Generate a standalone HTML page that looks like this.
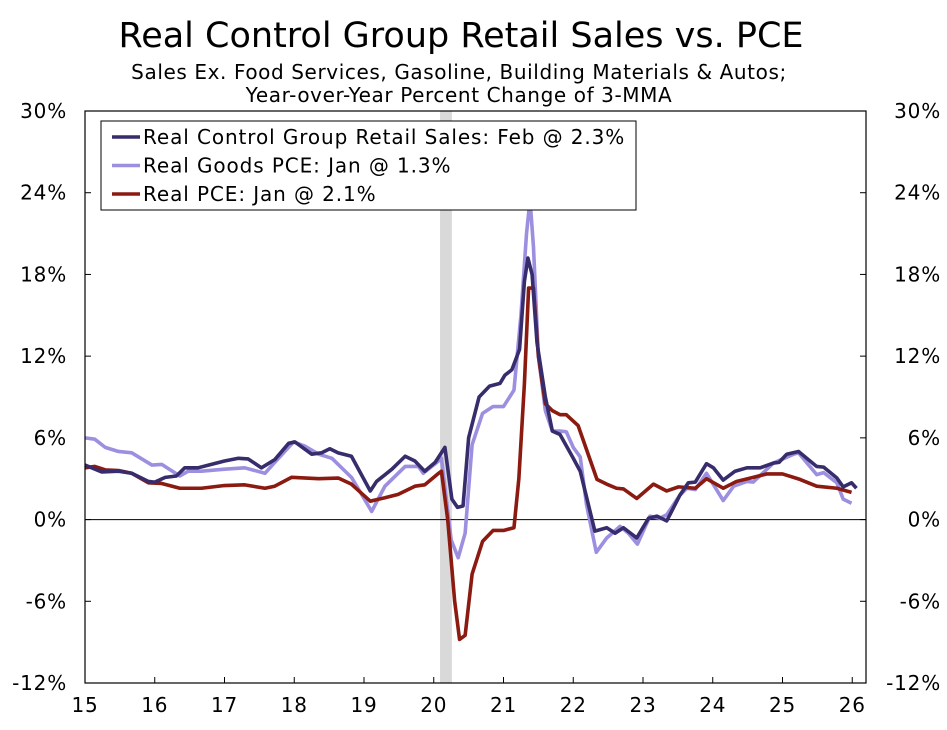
<!DOCTYPE html>
<html><head><meta charset="utf-8"><style>
body{margin:0;background:#fff;font-family:"DejaVu Sans","Liberation Sans",sans-serif;}
</style></head><body>
<svg id="chart" width="947" height="726" xmlns="http://www.w3.org/2000/svg" font-family="DejaVu Sans, Liberation Sans, sans-serif">
<text x="461" y="47" text-anchor="middle" font-size="35">Real Control Group Retail Sales vs. PCE</text>
<text x="459" y="79" text-anchor="middle" font-size="20" letter-spacing="0.6">Sales Ex. Food Services, Gasoline, Building Materials &amp; Autos;</text>
<text x="459" y="102" text-anchor="middle" font-size="20" letter-spacing="0.6">Year-over-Year Percent Change of 3-MMA</text>
<g id="plot"></g>
</svg>
<script>
const yTicks=[-12,-6,0,6,12,18,24,30];
const xTicks=[15,16,17,18,19,20,21,22,23,24,25,26];
const retailX=[15.0,15.24,15.48,15.67,15.91,16.0,16.15,16.31,16.43,16.62,16.77,17.0,17.2,17.34,17.53,17.72,17.92,18.01,18.25,18.39,18.51,18.63,18.82,19.09,19.18,19.4,19.59,19.73,19.87,20.02,20.16,20.26,20.34,20.42,20.5,20.65,20.8,20.95,21.02,21.12,21.23,21.3,21.35,21.41,21.48,21.6,21.7,21.81,22.0,22.1,22.31,22.48,22.6,22.72,22.91,23.08,23.2,23.34,23.53,23.65,23.75,23.91,24.01,24.15,24.32,24.49,24.68,24.87,24.95,25.06,25.23,25.49,25.59,25.78,25.87,25.99,26.06];
const retailY=[4.0,3.5,3.55,3.4,2.8,2.75,3.1,3.2,3.8,3.8,4.0,4.3,4.5,4.45,3.8,4.4,5.6,5.7,4.8,4.9,5.2,4.9,4.65,2.1,2.8,3.7,4.65,4.3,3.55,4.2,5.3,1.5,0.9,1.0,6.0,9.0,9.8,10.0,10.6,11.0,12.5,17.5,19.2,18.0,13.0,9.0,6.5,6.25,4.5,3.55,-0.85,-0.6,-1.0,-0.6,-1.35,0.1,0.25,-0.1,1.8,2.7,2.75,4.1,3.8,2.9,3.55,3.8,3.8,4.15,4.2,4.8,5.0,3.9,3.85,3.05,2.4,2.7,2.3];
const goodsX=[15.0,15.14,15.29,15.48,15.67,15.96,16.1,16.36,16.48,16.67,17.0,17.29,17.58,17.72,17.99,18.15,18.35,18.54,18.82,19.11,19.3,19.59,19.78,19.85,20.07,20.11,20.25,20.35,20.45,20.55,20.7,20.85,21.0,21.15,21.25,21.33,21.38,21.43,21.5,21.6,21.7,21.81,21.9,22.0,22.1,22.19,22.33,22.48,22.67,22.79,22.92,23.1,23.24,23.34,23.53,23.63,23.75,23.91,24.15,24.3,24.49,24.58,24.87,25.16,25.23,25.49,25.59,25.78,25.87,25.99];
const goodsY=[6.0,5.9,5.3,5.0,4.9,4.0,4.05,3.2,3.55,3.55,3.7,3.8,3.4,4.2,5.7,5.4,4.8,4.5,3.1,0.6,2.45,3.9,3.9,3.4,4.3,4.5,-1.5,-2.8,-1.0,5.5,7.8,8.3,8.3,9.5,15.0,21.0,23.5,20.0,12.0,8.0,6.5,6.5,6.45,5.3,4.6,1.1,-2.4,-1.35,-0.5,-1.0,-1.8,0.25,0.1,0.35,1.8,2.3,2.2,3.4,1.4,2.45,2.8,2.75,4.15,4.8,4.9,3.3,3.45,2.7,1.5,1.2];
const pceX=[15.0,15.14,15.29,15.48,15.67,15.91,16.1,16.36,16.67,17.0,17.29,17.58,17.72,17.96,18.35,18.63,18.82,19.09,19.3,19.49,19.73,19.87,20.07,20.11,20.2,20.3,20.37,20.45,20.55,20.7,20.85,21.0,21.15,21.22,21.3,21.36,21.43,21.5,21.6,21.7,21.81,21.9,22.07,22.2,22.34,22.48,22.62,22.72,22.91,23.15,23.34,23.51,23.75,23.91,24.15,24.34,24.58,24.77,25.0,25.25,25.49,25.78,25.99];
const pceY=[3.8,3.9,3.65,3.6,3.4,2.7,2.65,2.3,2.3,2.5,2.55,2.3,2.45,3.1,3.0,3.05,2.6,1.35,1.6,1.85,2.45,2.55,3.4,3.55,0.0,-6.0,-8.8,-8.5,-4.0,-1.6,-0.8,-0.8,-0.6,3.0,10.0,17.0,17.0,12.0,8.5,8.0,7.7,7.7,6.9,5.0,2.95,2.6,2.3,2.25,1.55,2.6,2.1,2.4,2.3,3.0,2.3,2.8,3.1,3.35,3.35,2.95,2.45,2.3,2.0];
const recession=[20.09,20.26];
const seriesNames=["Real Control Group Retail Sales: Feb @ 2.3%","Real Goods PCE: Jan @ 1.3%","Real PCE: Jan @ 2.1%"];

const L=85,R=866,T=111,B=683;
const xs=v=>L+(v-15)*69.75;
const ys=v=>B-(v+12)/42*(B-T);
const NS="http://www.w3.org/2000/svg";
const g=document.getElementById('plot');
function mk(t,a,p){const e=document.createElementNS(NS,t);for(const k in a)e.setAttribute(k,a[k]);(p||g).appendChild(e);return e;}

const rec=mk('rect',{x:xs(recession[0]),y:T,width:xs(recession[1])-xs(recession[0]),height:B-T,fill:'#d9d9d9'});


const zl=mk('line',{x1:L,x2:R,y1:ys(0),y2:ys(0),stroke:'#000','stroke-width':1});



yTicks.forEach(v=>{
 const a=mk('text',{x:67,y:ys(v)+7,'text-anchor':'end','font-size':20,'letter-spacing':0.8});a.textContent=v+'%';
 
 
 const b=mk('text',{x:941,y:ys(v)+7,'text-anchor':'end','font-size':20,'letter-spacing':0.8});b.textContent=v+'%';
 
 
 mk('line',{x1:L,x2:L+6,y1:ys(v),y2:ys(v),stroke:'#000'});
 mk('line',{x1:R-6,x2:R,y1:ys(v),y2:ys(v),stroke:'#000'});
});
xTicks.forEach(v=>{
 const t=mk('text',{x:xs(v),y:712,'text-anchor':'middle','font-size':20,'letter-spacing':0.8});t.textContent=v;
 
 
 mk('line',{x1:xs(v),x2:xs(v),y1:B,y2:B-6,stroke:'#000'});
});

function line(X,Y,c,name){
 const p=mk('polyline',{points:X.map((x,i)=>xs(x)+','+ys(Y[i])).join(' '),fill:'none',stroke:c,'stroke-width':3.6,'stroke-linejoin':'round'});
 
 
}
line(goodsX,goodsY,'#9d8fe0','series-goods-pce');
line(pceX,pceY,'#8b1a10','series-real-pce');
line(retailX,retailY,'#372c6c','series-retail-sales');

const frame=mk('rect',{x:L,y:T,width:R-L,height:B-T,fill:'none',stroke:'#000','stroke-width':1.2});



const lg=mk('g',{});


mk('rect',{x:101,y:121,width:535,height:89,fill:'#fff',stroke:'#000'},lg);
const cols=['#372c6c','#9d8fe0','#8b1a10'];
seriesNames.forEach((n,i)=>{
 const y=137+i*28.5;
 const e=mk('g',{},lg);
 
 
 mk('line',{x1:112,x2:140,y1:y,y2:y,stroke:cols[i],'stroke-width':3.6},e);
 const t=mk('text',{x:143,y:y+7,'font-size':20,'letter-spacing':0.9},e);t.textContent=n;
});
</script>
</body></html>
